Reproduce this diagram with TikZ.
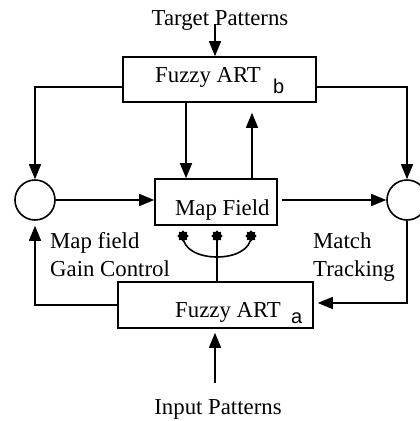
\documentclass[tikz,border=0pt]{standalone}
\usepackage{fontspec}
\setmainfont{Liberation Serif}
\newfontfamily\subfont{Liberation Sans}
\usetikzlibrary{arrows.meta,shapes.geometric}
\tikzset{
  box/.style={draw, line width=1.6pt, rectangle, inner sep=0pt},
  txt/.style={inner sep=0pt, font=\fontsize{22.8}{26}\selectfont},
  subtxt/.style={inner sep=0pt, font=\subfont\fontsize{20}{22}\selectfont},
  ring/.style={draw, line width=1.6pt, circle, minimum size=40pt, inner sep=0pt},
  wire/.style={line width=1.6pt},
  arr/.style={wire, -{Triangle[length=15pt,width=12pt]}},
  dot/.style={star, star points=8, star point ratio=1.35, fill=black, draw=black, line width=1pt, minimum size=10pt, inner sep=0pt}
}
\begin{document}
\begin{tikzpicture}[x=1pt,y=-1pt]
\useasboundingbox (0,0) rectangle (420,421);
\clip (0,0) rectangle (420,421);
% boxes
\node[box, minimum width=193pt, minimum height=45pt] (artb) at (219.5,79.5) {};
\node[box, minimum width=122pt, minimum height=46pt] (mapf) at (216,202) {};
\node[box, minimum width=195pt, minimum height=46pt] (arta) at (215.5,305) {};
\node[ring] (lc) at (35,200) {};
\node[ring] (rc) at (407,200) {};
% texts
\node[txt, anchor=base] (tp) at (220,25) {Target Patterns};
\node[txt, anchor=base west] (artbt) at (155,82) {Fuzzy ART};
\node[subtxt, anchor=base west] (artbs) at (273,93) {b};
\node[txt, anchor=base west] (mapft) at (175,215) {Map Field};
\node[txt, anchor=base west] (artat) at (175,317) {Fuzzy ART};
\node[subtxt, anchor=base west] (artas) at (291,323) {a};
\node[txt, anchor=base west] (mf1) at (50,248) {Map field};
\node[txt, anchor=base west] (mf2) at (50,276) {Gain Control};
\node[txt, anchor=base west] (mt1) at (313,248) {Match};
\node[txt, anchor=base west] (mt2) at (313,276) {Tracking};
\node[txt, anchor=base] (ip) at (218,414) {Input Patterns};
% stars
\node[dot] (s1) at (183,236) {};
\node[dot] (s2) at (217,236) {};
\node[dot] (s3) at (251,236) {};
% coordinates
\coordinate (tpin) at (215,24);
\coordinate (ipin) at (215,383);
\coordinate (bl) at (123,87);
\coordinate (br) at (316,87);
\coordinate (al) at (118,305);
\coordinate (ar) at (406,303);
% connectors
\draw[arr] (tpin) -- (tpin |- artb.north);
\draw[arr] (bl) -| (lc.north);
\draw[arr] (br) -| (rc.north);
\draw[arr] (artb.south -| 186,0) -- (mapf.north -| 186,0);
\draw[arr, shorten >=10pt] (mapf.north -| 252,0) -- (artb.south -| 252,0);
\draw[arr] (lc.east) -- (lc.east -| mapf.west);
\draw[arr, shorten <=4pt] (mapf.east |- rc.west) -- (rc.west);
\draw[arr, shorten >=4pt] (rc.south) |- (arta.east |- ar);
\draw[arr, shorten >=5pt] (al) -| (lc.south);
\draw[arr, shorten >=4pt] (ipin) -- (arta.south -| ipin);
\draw[wire] (s1.center) .. controls (183,264) and (251,264) .. (s3.center);
\draw[wire] (s2.center) -- (arta.north -| s2);
\end{tikzpicture}
\end{document}
